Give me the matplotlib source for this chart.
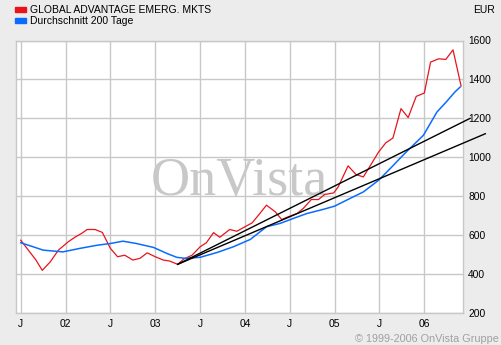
import matplotlib
matplotlib.use('Agg')
import matplotlib.pyplot as plt
from matplotlib.patches import Rectangle

plt.rcParams['font.family'] = ['Liberation Sans', 'DejaVu Sans']

# values, x in decimal years
fund_x = [2001.50, 2001.67, 2001.74, 2001.83, 2001.92, 2002.03, 2002.11, 2002.18,
          2002.24, 2002.33, 2002.41, 2002.50, 2002.58, 2002.66, 2002.75, 2002.83,
          2002.91, 2003.00, 2003.09, 2003.16, 2003.25, 2003.32, 2003.41, 2003.50,
          2003.57, 2003.65, 2003.72, 2003.83, 2003.91, 2004.00, 2004.08, 2004.15,
          2004.24, 2004.34, 2004.41, 2004.48, 2004.58, 2004.65, 2004.74, 2004.82,
          2004.89, 2004.99, 2005.04, 2005.15, 2005.24, 2005.32, 2005.39, 2005.49,
          2005.57, 2005.65, 2005.74, 2005.82, 2005.91, 2006.00, 2006.07, 2006.16,
          2006.24, 2006.32, 2006.41]
fund_y = [574, 472, 419, 463, 523, 566, 591, 609,
          629, 629, 614, 532, 489, 497, 472, 481,
          509, 489, 472, 467, 450, 478, 497, 540,
          561, 613, 589, 629, 620, 643, 663, 702,
          754, 719, 680, 694, 711, 737, 783, 783,
          809, 817, 848, 956, 911, 899, 951, 1027,
          1074, 1099, 1250, 1204, 1313, 1330, 1489, 1506,
          1503, 1552, 1366]

avg_x = [2001.50, 2001.64, 2001.75, 2001.97, 2002.16, 2002.35, 2002.50, 2002.64,
         2002.79, 2002.98, 2003.13, 2003.24, 2003.33, 2003.50, 2003.69, 2003.87,
         2004.06, 2004.24, 2004.39, 2004.54, 2004.69, 2004.87, 2005.00, 2005.13,
         2005.32, 2005.49, 2005.62, 2005.78, 2005.99, 2006.14, 2006.25, 2006.34,
         2006.40]
avg_y = [561, 540, 523, 514, 532, 548, 557, 569,
         557, 537, 506, 486, 481, 486, 511, 540,
         578, 643, 660, 686, 711, 732, 749, 779,
         822, 882, 942, 1019, 1113, 1232, 1287, 1335,
         1361]

# two trend lines from the 2003 low
trend_a_x = [2003.25, 2006.51]
trend_a_y = [450, 1200]
trend_b_x = [2003.25, 2006.68]
trend_b_y = [450, 1121]

xticks = [2001.5, 2002.0, 2002.5, 2003.0, 2003.5, 2004.0, 2004.5, 2005.0, 2005.5, 2006.0]
xlabels = ['J', '02', 'J', '03', 'J', '04', 'J', '05', 'J', '06']
yticks = [200, 400, 600, 800, 1000, 1200, 1400, 1600]

W, H = 501, 345
fig = plt.figure(figsize=(W / 100, H / 100), dpi=100, facecolor='#ececec')
ax = fig.add_axes([15.7 / W, (H - 313) / H, 447 / W, 272.5 / H])
ax.set_facecolor('white')

ax.set_xlim(2001.444, 2006.428)
ax.set_ylim(200, 1600)
ax.set_xticks(xticks)
ax.set_xticklabels(xlabels)
ax.set_yticks(yticks)
ax.yaxis.tick_right()
ax.tick_params(length=0, labelsize=7.4, colors='black')
ax.tick_params(axis='y', pad=4)
ax.tick_params(axis='x', pad=4)
for lab in ax.get_yticklabels():
    lab.set_horizontalalignment('left')
ax.grid(True, color='#c8c8c8', lw=1.0)
ax.set_axisbelow(True)
for s in ax.spines.values():
    s.set_color('#c8c8c8')
    s.set_linewidth(1.0)

ax.text(0.5, 0.433, 'OnVista', transform=ax.transAxes, ha='center', va='baseline',
        fontsize=39, family='Liberation Serif', color='#c8c8c8', zorder=1)

ax.plot(fund_x, fund_y, color='#e8141c', lw=0.9, zorder=3)
ax.plot(avg_x, avg_y, color='#0a6cff', lw=1.1, zorder=3)
ax.plot(trend_a_x, trend_a_y, color='black', lw=1.0, zorder=4, clip_on=False)
ax.plot(trend_b_x, trend_b_y, color='black', lw=1.0, zorder=4, clip_on=False)

# legend at top
fig.patches.append(Rectangle((15 / W, 1 - 12.3 / H), 11 / W, 5 / H,
                             transform=fig.transFigure, color='#e8141c'))
fig.patches.append(Rectangle((15 / W, 1 - 23.3 / H), 11 / W, 5 / H,
                             transform=fig.transFigure, color='#0a6cff'))
fig.text(29.5 / W, 1 - 9.6 / H, 'GLOBAL ADVANTAGE EMERG. MKTS', fontsize=7.5, va='center')
fig.text(29.5 / W, 1 - 20.6 / H, 'Durchschnitt 200 Tage', fontsize=7.5, va='center')
fig.text(495 / W, 1 - 9.6 / H, 'EUR', fontsize=7.5, va='center', ha='right')
fig.text(499 / W, 1 - 339 / H, '\u00a9 1999-2006 OnVista Gruppe', fontsize=7.8,
         va='center', ha='right', color='#a0a0a0')

fig.savefig('out.png', dpi=100, facecolor=fig.get_facecolor())
